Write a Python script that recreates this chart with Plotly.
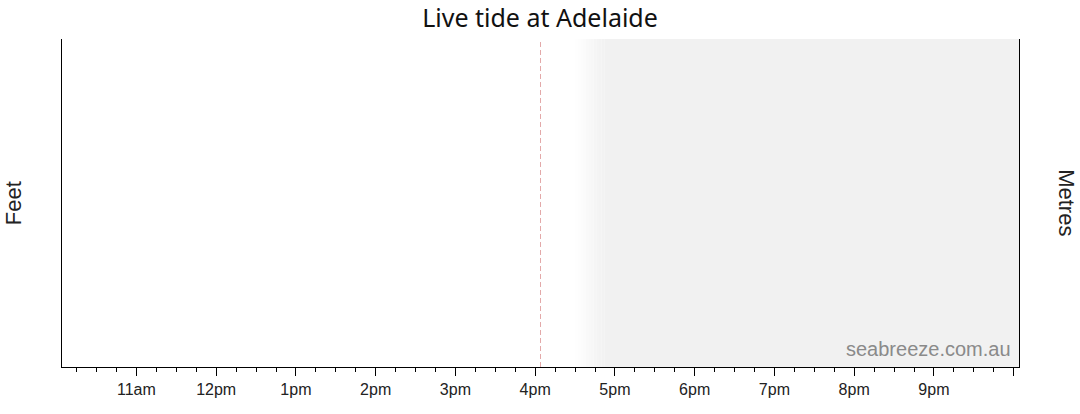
import plotly.graph_objects as go

day = "2024-06-20"
title = "Live tide at Adelaide"

# tide readings (none loaded yet in the live view)
tide_times = []
tide_feet = []

hour_ticks = ["11:00", "12:00", "13:00", "14:00", "15:00", "16:00", "17:00",
              "18:00", "19:00", "20:00", "21:00", "22:00"]
hour_labels = ["11am", "12pm", "1pm", "2pm", "3pm", "4pm", "5pm",
               "6pm", "7pm", "8pm", "9pm", ""]

view_start = "10:04"
view_end = "22:04"
now_time = "16:04"
dark_start = "16:30"   # twilight fade begins
dark_full = "16:52"    # fully shaded after this

def ts(hm):
    return f"{day} {hm}:00"

def minutes(hm):
    h, m = hm.split(":")
    return int(h) * 60 + int(m)

def hm_str(mins):
    return f"{int(mins // 60):02d}:{int(mins % 60):02d}"

fig = go.Figure()
fig.add_trace(go.Scatter(x=[ts(t) for t in tide_times], y=tide_feet,
                         mode="lines", line=dict(color="#1f77b4"), showlegend=False))
fig.add_trace(go.Scatter(x=[], y=[], yaxis="y2", showlegend=False))

# faded shading for the night/future area
steps = 11
a, b = minutes(dark_start), minutes(dark_full)
for i in range(steps):
    s0 = a + (b - a) * i / steps
    s1 = a + (b - a) * (i + 1) / steps
    g = round(255 - (255 - 241) * (i + 0.5) / steps)
    fig.add_vrect(x0=ts(hm_str(s0)), x1=ts(hm_str(s1)), fillcolor=f"rgb({g},{g},{g})",
                  line_width=0, layer="below", opacity=1)
fig.add_vrect(x0=ts(dark_full), x1=ts(view_end), fillcolor="rgb(241,241,241)",
              line_width=0, layer="below", opacity=1)

fig.add_shape(type="line", x0=ts(now_time), x1=ts(now_time), y0=0, y1=1,
              xref="x", yref="paper", line=dict(color="#e3a9a9", width=1, dash="5px,3px"))

fig.add_annotation(text="seabreeze.com.au", xref="paper", yref="paper", x=0.994, y=0.015,
                   xanchor="right", yanchor="bottom", showarrow=False,
                   font=dict(size=20, color="#8a8a8a", family="Liberation Sans, Arial"))
fig.add_annotation(text="Feet", xref="paper", yref="paper", x=-0.051, y=0.5,
                   xanchor="center", yanchor="middle", textangle=-90, showarrow=False,
                   font=dict(size=22, color="#222"))
fig.add_annotation(text="Metres", xref="paper", yref="paper", x=1.05, y=0.5,
                   xanchor="center", yanchor="middle", textangle=90, showarrow=False,
                   font=dict(size=22, color="#222"))

fig.update_layout(
    width=1080, height=414,
    margin=dict(l=62, r=61, t=39, b=47),
    paper_bgcolor="white", plot_bgcolor="white",
    font=dict(family="Liberation Sans, Arial", color="#222"),
    title=dict(text=title, x=0.5, xanchor="center", y=0.955, yanchor="middle",
               font=dict(size=25, family="Noto Sans", color="#111")),
    xaxis=dict(type="date", range=[ts(view_start), ts(view_end)],
               tickvals=[ts(t) for t in hour_ticks], ticktext=hour_labels,
               ticks="outside", ticklen=8, tickcolor="black", tickwidth=1,
               minor=dict(ticks="outside", ticklen=4, tickcolor="black",
                          dtick=15 * 60 * 1000, tick0=ts("10:00")),
               showline=True, linecolor="black", linewidth=1, showgrid=False,
               zeroline=False, tickfont=dict(size=16, color="#222"), fixedrange=True),
    yaxis=dict(range=[0, 10], showline=True, linecolor="black", linewidth=1,
               showgrid=False, zeroline=False, showticklabels=False, ticks=""),
    yaxis2=dict(range=[0, 3], overlaying="y", side="right", showline=True,
                linecolor="black", linewidth=1, showgrid=False, zeroline=False,
                showticklabels=False, ticks=""),
    showlegend=False,
)

fig.write_html("out.html", config={"displayModeBar": False},
               post_script="document.body.style.margin='0';")
